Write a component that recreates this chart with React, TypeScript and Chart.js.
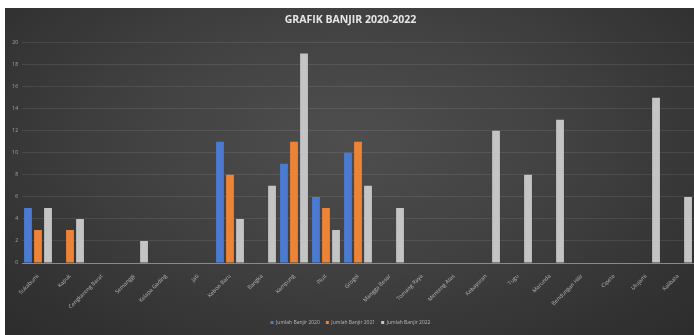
import React, { useEffect, useRef } from "react";
import { Chart, registerables } from "chart.js";

Chart.register(...registerables);

const categories = [
  "Sukabumi",
  "Kapuk",
  "Cengkareng Barat",
  "Semanggi",
  "Kelapa Gading",
  "Jati",
  "Kebon Baru",
  "Bangka",
  "Kampung",
  "Pluit",
  "Grogol",
  "Mangga Besar",
  "Tomang Raya",
  "Menteng Atas",
  "Kebayoran",
  "Tugu",
  "Marunda",
  "Bendungan Hilir",
  "Cipete",
  "Ulujami",
  "Kalibata",
];

const banjir2020 = [5, 0, 0, 0, 0, 0, 11, 0, 9, 6, 10, 0, 0, 0, 0, 0, 0, 0, 0, 0, 0];
const banjir2021 = [3, 3, 0, 0, 0, 0, 8, 0, 11, 5, 11, 0, 0, 0, 0, 0, 0, 0, 0, 0, 0];
const banjir2022 = [5, 4, 0, 2, 0, 0, 4, 7, 19, 3, 7, 5, 0, 0, 12, 8, 13, 0, 0, 15, 6];

const seriesNames = ["Jumlah Banjir 2020", "Jumlah Banjir 2021", "Jumlah Banjir 2022"];
const yTicksMax = 20;
const yTicksStep = 2;

const FONT = "'Open Sans', 'Liberation Sans', sans-serif";

export default function App() {
  const ref = useRef<HTMLCanvasElement>(null);

  useEffect(() => {
    document.body.style.margin = "0";
    const chart = new Chart(ref.current!, {
      type: "bar",
      data: {
        labels: categories,
        datasets: [
          { label: seriesNames[0], data: banjir2020, backgroundColor: "#4a7bd0" },
          { label: seriesNames[1], data: banjir2021, backgroundColor: "#ee8236" },
          { label: seriesNames[2], data: banjir2022, backgroundColor: "#c4c4c4" },
        ],
      },
      options: {
        responsive: false,
        animation: false,
        datasets: { bar: { categoryPercentage: 0.94, barPercentage: 0.78 } },
        layout: { padding: { left: 2, right: 0, top: 0, bottom: 0 } },
        plugins: {
          title: {
            display: true,
            text: "GRAFIK BANJIR 2020-2022",
            color: "#e6e6e6",
            font: { family: FONT, size: 10.5, weight: "bold" },
            padding: { top: 6, bottom: 16 },
          },
          legend: {
            position: "bottom",
            labels: {
              color: "#b8b8b8",
              font: { family: FONT, size: 5 },
              boxWidth: 3,
              boxHeight: 3,
              padding: 6,
            },
          },
          tooltip: { enabled: false },
        },
        scales: {
          x: {
            grid: { display: false },
            border: { color: "#8a8a8a" },
            ticks: {
              color: "#b8b8b8",
              font: { family: FONT, size: 5.5 },
              maxRotation: 45,
              minRotation: 45,
              autoSkip: false,
              padding: 2,
            },
            afterFit: (s: any) => {
              s.height = 51;
            },
          },
          y: {
            min: 0,
            max: yTicksMax,
            ticks: {
              stepSize: yTicksStep,
              color: "#a8a8a8",
              font: { family: FONT, size: 5 },
              padding: 4,
            },
            grid: { color: "rgba(255,255,255,0.09)", drawTicks: false },
            border: { display: false },
            afterFit: (s: any) => {
              s.width = 15;
            },
          },
        },
      },
    });
    return () => chart.destroy();
  }, []);

  return (
    <div
      style={{
        position: "fixed",
        left: 0,
        top: 0,
        width: 694,
        height: 335,
        background: "#ffffff",
        overflow: "hidden",
      }}
    >
      <div
        style={{
          position: "absolute",
          left: 5,
          top: 8,
          width: 689,
          height: 327,
          background:
            "radial-gradient(ellipse at 50% 40%, #4e4e4e 0%, #414141 45%, #333333 80%, #2c2c2c 100%)",
        }}
      >
        <canvas ref={ref} width={689} height={327} style={{ display: "block" }} />
      </div>
    </div>
  );
}
